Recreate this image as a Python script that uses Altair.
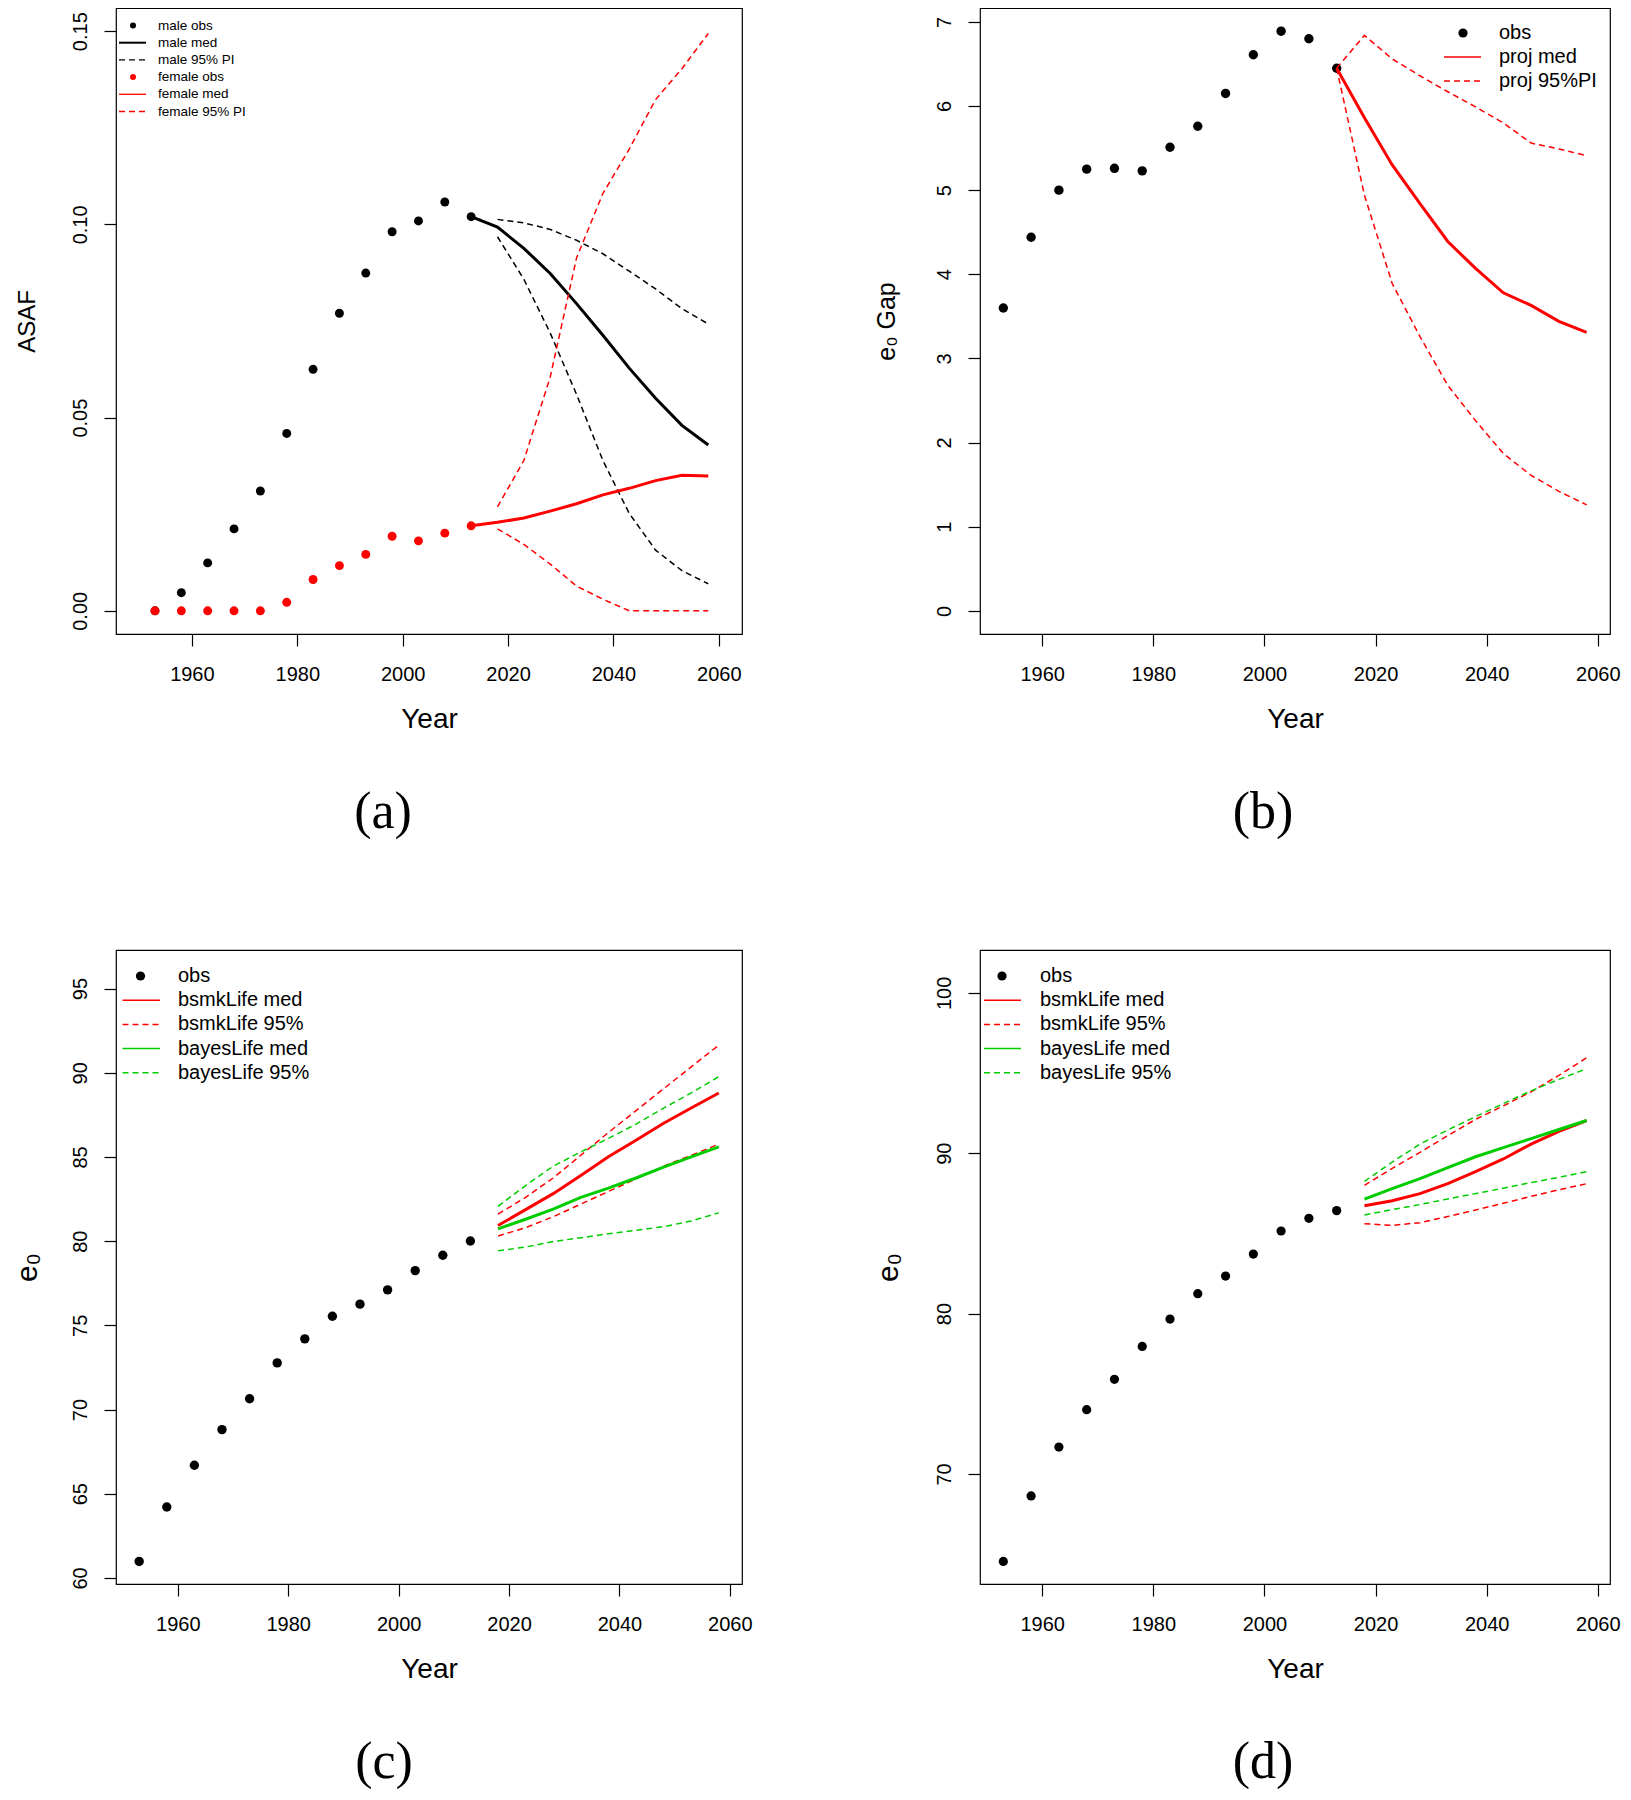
import altair as alt
import pandas as pd

FONT = "Liberation Sans"
SERIF = "Liberation Serif"
RED = "#FF0000"
GREEN = "#00CD00"
BLACK = "#000000"
DASH = [6, 4]

# ---------------- data ----------------
YEARS_OBS = [1953, 1958, 1963, 1968, 1973, 1978, 1983, 1988, 1993, 1998, 2003, 2008, 2013]
YEARS_PROJ = [2013, 2018, 2023, 2028, 2033, 2038, 2043, 2048, 2053, 2058]
YEARS_PI = [2018, 2023, 2028, 2033, 2038, 2043, 2048, 2053, 2058]
X_TICKS = [1960, 1980, 2000, 2020, 2040, 2060]

# (a) ASAF
A_MALE_OBS = [0.0, 0.0047, 0.0124, 0.0212, 0.0310, 0.0459, 0.0625, 0.0770, 0.0874, 0.0981, 0.1009, 0.1058, 0.1020]
A_MALE_MED = [0.1020, 0.0993, 0.0938, 0.0873, 0.0795, 0.0713, 0.0628, 0.0550, 0.0480, 0.0429]
A_MALE_HI = [0.1013, 0.1004, 0.0987, 0.0959, 0.0924, 0.0879, 0.0833, 0.0782, 0.0742]
A_MALE_LO = [0.0968, 0.0858, 0.0719, 0.0560, 0.0389, 0.0252, 0.0157, 0.0104, 0.0070]
A_FEMALE_OBS = [0.0, 0.0, 0.0, 0.0, 0.0, 0.0022, 0.0081, 0.0117, 0.0146, 0.0193, 0.0181, 0.0201, 0.0220]
A_FEMALE_MED = [0.0220, 0.0229, 0.0240, 0.0258, 0.0277, 0.0300, 0.0317, 0.0337, 0.0351, 0.0349]
A_FEMALE_HI = [0.0269, 0.0389, 0.0605, 0.0913, 0.1080, 0.1195, 0.1323, 0.1403, 0.1494]
A_FEMALE_LO = [0.0212, 0.0172, 0.0121, 0.0064, 0.0030, 0.0, 0.0, 0.0, 0.0]

# (b) e0 gap
B_OBS = [3.60, 4.44, 5.00, 5.25, 5.26, 5.23, 5.51, 5.76, 6.15, 6.61, 6.89, 6.80, 6.45]
B_MED = [6.45, 5.86, 5.30, 4.84, 4.39, 4.07, 3.78, 3.63, 3.44, 3.31]
B_HI = [6.45, 6.84, 6.56, 6.36, 6.17, 5.99, 5.80, 5.56, 5.49, 5.41]
B_LO = [6.45, 4.94, 3.89, 3.26, 2.68, 2.26, 1.87, 1.61, 1.42, 1.26]

# (c) e0
C_OBS = [60.98, 64.21, 66.69, 68.81, 70.64, 72.77, 74.20, 75.54, 76.26, 77.11, 78.25, 79.16, 80.01]
C_BSMK_MED = [80.93, 81.87, 82.82, 83.90, 85.01, 85.99, 87.00, 87.91, 88.80]
C_BSMK_HI = [81.61, 82.60, 83.75, 85.10, 86.45, 87.75, 89.05, 90.35, 91.64]
C_BSMK_LO = [80.31, 80.80, 81.45, 82.20, 82.95, 83.70, 84.45, 85.10, 85.76]
C_BAYES_MED = [80.73, 81.30, 81.90, 82.60, 83.15, 83.75, 84.40, 85.00, 85.60]
C_BAYES_HI = [82.07, 83.30, 84.45, 85.30, 86.10, 86.95, 87.90, 88.80, 89.77]
C_BAYES_LO = [79.43, 79.65, 79.98, 80.20, 80.44, 80.65, 80.86, 81.20, 81.68]

# (d) e0
D_OBS = [64.55, 68.63, 71.68, 74.01, 75.90, 77.95, 79.66, 81.24, 82.34, 83.71, 85.15, 85.94, 86.42]
D_BSMK_MED = [86.73, 87.04, 87.48, 88.10, 88.85, 89.64, 90.57, 91.36, 92.04]
D_BSMK_HI = [88.00, 89.05, 90.05, 91.10, 92.11, 92.95, 93.83, 94.85, 95.95]
D_BSMK_LO = [85.60, 85.50, 85.67, 86.05, 86.46, 86.88, 87.31, 87.72, 88.10]
D_BAYES_MED = [87.14, 87.79, 88.41, 89.10, 89.78, 90.35, 90.91, 91.48, 92.04]
D_BAYES_HI = [88.24, 89.45, 90.57, 91.45, 92.28, 93.10, 93.89, 94.60, 95.27]
D_BAYES_LO = [86.15, 86.48, 86.80, 87.15, 87.48, 87.82, 88.17, 88.50, 88.85]

ONE = pd.DataFrame({"k": [0]})


def frame(years, vals):
    return pd.DataFrame({"year": years, "value": vals})


def make_panel(p):
    w, h = p["w"], p["h"]
    xs = alt.Scale(domain=p["xdom"], nice=False, zero=False)
    ys = alt.Scale(domain=p["ydom"], nice=False, zero=False)
    xa = alt.Axis(values=X_TICKS, format="d", domain=False, grid=False,
                  tickSize=12, tickColor=BLACK, tickWidth=1.2,
                  labelFont=FONT, labelFontSize=20, labelColor=BLACK,
                  labelPadding=18, labelFlush=False, labelOverlap=False,
                  title="Year", titleFont=FONT, titleFontSize=28,
                  titleFontWeight="normal", titleColor=BLACK,
                  titleX=w / 2, titleY=93, titleAlign="center",
                  titleBaseline="alphabetic", titleAngle=0)
    ya = alt.Axis(values=p["yticks"], format=p["yfmt"], domain=False, grid=False,
                  tickSize=12, tickColor=BLACK, tickWidth=1.2,
                  labelFont=FONT, labelFontSize=20, labelColor=BLACK,
                  labelAngle=270, labelAlign="center", labelBaseline="alphabetic",
                  labelPadding=18, labelFlush=False, labelOverlap=False,
                  title=p["ytitle"], titleFont=FONT, titleFontSize=p["ytsize"],
                  titleFontWeight="normal", titleColor=BLACK,
                  titleX=p["ytx"], titleY=h / 2, titleAlign="center",
                  titleBaseline="alphabetic", titleAngle=270)
    enc = dict(x=alt.X("year:Q", scale=xs, axis=xa),
               y=alt.Y("value:Q", scale=ys, axis=ya))
    layers = []
    for kind, years, vals, color in p["series"]:
        base = alt.Chart(frame(years, vals))
        if kind == "obs":
            m = base.mark_circle(size=p["dot"], color=color, opacity=1)
        elif kind == "med":
            m = base.mark_line(color=color, strokeWidth=3)
        else:
            m = base.mark_line(color=color, strokeWidth=1.5, strokeDash=DASH)
        layers.append(m.encode(**enc))

    lg = p["legend"]
    for i, (kind, color, label, lw) in enumerate(lg["items"]):
        yy = lg["y0"] + i * lg["dy"]
        one = alt.Chart(ONE)
        if kind == "obs":
            layers.append(one.mark_circle(size=lg["dot"], color=color, opacity=1).encode(
                x=alt.value(lg["sx"]), y=alt.value(yy)))
        elif kind == "med":
            layers.append(one.mark_rule(color=color, strokeWidth=lw).encode(
                x=alt.value(lg["lx0"]), x2=alt.value(lg["lx1"]), y=alt.value(yy)))
        else:
            layers.append(one.mark_rule(color=color, strokeWidth=lw, strokeDash=DASH).encode(
                x=alt.value(lg["lx0"]), x2=alt.value(lg["lx1"]), y=alt.value(yy)))
        layers.append(one.mark_text(align="left", baseline="middle", font=FONT,
                                    fontSize=lg["fs"], color=BLACK).encode(
            x=alt.value(lg["tx"]), y=alt.value(yy), text=alt.value(label)))

    title = alt.TitleParams(text=p["caption"], orient="bottom", anchor="middle",
                            frame="group", baseline="alphabetic", offset=95,
                            dx=p["capdx"], font=SERIF, fontSize=52,
                            fontWeight="normal", color=BLACK)
    return alt.layer(*layers).properties(width=w, height=h, title=title)


panel_a = dict(
    w=626, h=626, xdom=[1945.6, 2064.4], ydom=[-0.006, 0.156],
    yticks=[0.0, 0.05, 0.10, 0.15], yfmt=".2f", ytitle="ASAF", ytsize=24, ytx=-81.5,
    dot=80, caption="(a)", capdx=-46,
    series=[
        ("obs", YEARS_OBS, A_MALE_OBS, BLACK),
        ("med", YEARS_PROJ, A_MALE_MED, BLACK),
        ("pi", YEARS_PI, A_MALE_HI, BLACK),
        ("pi", YEARS_PI, A_MALE_LO, BLACK),
        ("obs", YEARS_OBS, A_FEMALE_OBS, RED),
        ("med", YEARS_PROJ, A_FEMALE_MED, RED),
        ("pi", YEARS_PI, A_FEMALE_HI, RED),
        ("pi", YEARS_PI, A_FEMALE_LO, RED),
    ],
    legend=dict(y0=17.5, dy=17.2, sx=17, lx0=3, lx1=30, tx=42, fs=13.5, dot=36,
                items=[("obs", BLACK, "male obs", 0), ("med", BLACK, "male med", 2),
                       ("pi", BLACK, "male 95% PI", 1.3), ("obs", RED, "female obs", 0),
                       ("med", RED, "female med", 1.3), ("pi", RED, "female 95% PI", 1.3)]),
)

panel_b = dict(
    w=630, h=626, xdom=[1948.8, 2062.2], ydom=[-0.2756, 7.1656],
    yticks=[0, 1, 2, 3, 4, 5, 6, 7], yfmt="d", ytitle="e\u2080 Gap", ytsize=25, ytx=-86,
    dot=88, caption="(b)", capdx=-32,
    series=[
        ("obs", YEARS_OBS, B_OBS, BLACK),
        ("med", YEARS_PROJ, B_MED, RED),
        ("pi", YEARS_PROJ, B_HI, RED),
        ("pi", YEARS_PROJ, B_LO, RED),
    ],
    legend=dict(y0=25, dy=24, sx=483, lx0=464, lx1=501, tx=519, fs=20, dot=85,
                items=[("obs", BLACK, "obs", 0), ("med", RED, "proj med", 1.7),
                       ("pi", RED, "proj 95%PI", 1.5)]),
)

panel_c = dict(
    w=626, h=634, xdom=[1948.8, 2062.2], ydom=[59.64, 97.29],
    yticks=[60, 65, 70, 75, 80, 85, 90, 95], yfmt="d", ytitle="e\u2080", ytsize=30, ytx=-80,
    dot=88, caption="(c)", capdx=-45,
    series=[
        ("obs", YEARS_OBS, C_OBS, BLACK),
        ("med", YEARS_PI, C_BSMK_MED, RED),
        ("pi", YEARS_PI, C_BSMK_HI, RED),
        ("pi", YEARS_PI, C_BSMK_LO, RED),
        ("med", YEARS_PI, C_BAYES_MED, GREEN),
        ("pi", YEARS_PI, C_BAYES_HI, GREEN),
        ("pi", YEARS_PI, C_BAYES_LO, GREEN),
    ],
    legend=dict(y0=26, dy=24.2, sx=24.5, lx0=6.5, lx1=44, tx=62, fs=20, dot=85,
                items=[("obs", BLACK, "obs", 0), ("med", RED, "bsmkLife med", 1.5),
                       ("pi", RED, "bsmkLife 95%", 1.5), ("med", GREEN, "bayesLife med", 1.5),
                       ("pi", GREEN, "bayesLife 95%", 1.5)]),
)

panel_d = dict(
    w=630, h=634, xdom=[1948.8, 2062.2], ydom=[63.14, 102.67],
    yticks=[70, 80, 90, 100], yfmt="d", ytitle="e\u2080", ytsize=30, ytx=-83,
    dot=85, caption="(d)", capdx=-32,
    series=[
        ("obs", YEARS_OBS, D_OBS, BLACK),
        ("med", YEARS_PI, D_BSMK_MED, RED),
        ("pi", YEARS_PI, D_BSMK_HI, RED),
        ("pi", YEARS_PI, D_BSMK_LO, RED),
        ("med", YEARS_PI, D_BAYES_MED, GREEN),
        ("pi", YEARS_PI, D_BAYES_HI, GREEN),
        ("pi", YEARS_PI, D_BAYES_LO, GREEN),
    ],
    legend=dict(y0=26, dy=24.2, sx=22, lx0=4, lx1=41, tx=60, fs=20, dot=85,
                items=[("obs", BLACK, "obs", 0), ("med", RED, "bsmkLife med", 1.5),
                       ("pi", RED, "bsmkLife 95%", 1.5), ("med", GREEN, "bayesLife med", 1.5),
                       ("pi", GREEN, "bayesLife 95%", 1.5)]),
)

chart = alt.concat(
    make_panel(panel_a), make_panel(panel_b), make_panel(panel_c), make_panel(panel_d),
    columns=2, spacing={"row": 316, "column": 238}, bounds="flush",
).properties(
    padding={"left": 3, "top": -1, "right": 0, "bottom": 0},
    background="white",
).configure_view(
    stroke=BLACK, strokeWidth=1.2
)

chart.save("out.html", embed_options={"renderer": "svg", "actions": False})
